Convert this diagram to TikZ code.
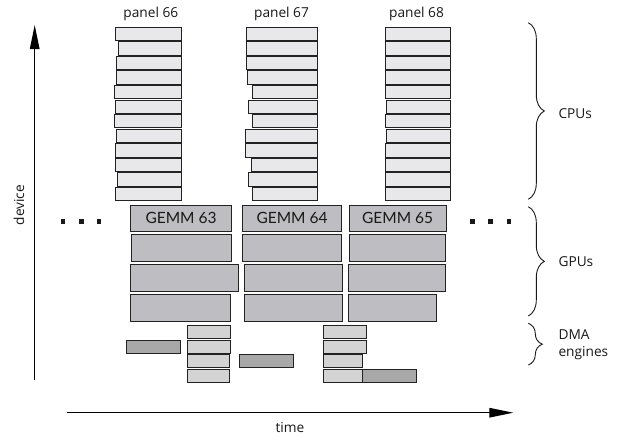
\documentclass[tikz,border=0pt]{standalone}
\usepackage{fontspec}
\setmainfont{Open Sans}
\newfontfamily\gemmfont{Lato}
\usetikzlibrary{arrows.meta,decorations.pathreplacing}
\definecolor{cpufill}{HTML}{E8E8EA}
\definecolor{gpufill}{HTML}{BEBEC2}
\definecolor{dmalight}{HTML}{D3D3D3}
\definecolor{dmadark}{HTML}{A8A8A8}
\definecolor{edge}{HTML}{222222}
\newcommand\bbox[6]{% style, name, x1, y1, x2, y2
  \node[#1, minimum width={(#5-#3)*1pt}, minimum height={(#6-#4)*1pt}] (#2) at (#3,#4) {};}
\begin{document}
\begin{tikzpicture}[x=1pt,y=-1pt,
  barbase/.style={draw=edge, line width=1pt, anchor=north west, inner sep=0pt, outer sep=0pt},
  cpubar/.style={barbase, fill=cpufill},
  gpubar/.style={barbase, fill=gpufill},
  dmal/.style={barbase, fill=dmalight},
  dmad/.style={barbase, fill=dmadark},
  lbl/.style={font=\fontsize{13.7}{16.5}\selectfont, text=black!90},
  gemm/.style={font=\gemmfont\fontsize{15.5}{18}\selectfont, text=black!90},
  dotsq/.style={fill=black!90, draw=none, minimum size=4.8pt, inner sep=0pt},
  axis/.style={line width=1.3pt, draw=black, -{Triangle[length=24pt,width=9.5pt]}},
  brc/.style={draw=black!90, line width=0.9pt, decorate, decoration={brace, amplitude=16pt}}]
\useasboundingbox (0,0) rectangle (628,440);
\fill[white] (0,0) rectangle (628,440);

% CPU panels
\foreach \l [count=\i] in {115.7,118.7,116,116.3,114.7,115,114.7,116,115.3,115.3,117.3,115.7}
  {\pgfmathsetmacro\t{27.3+(\i-1)*14.55}\bbox{cpubar}{pa\i}{\l}{\t}{181}{\t+13.3}}
\foreach \l [count=\i] in {246.7,246,246.7,247.3,252.7,248.3,252,245.3,245.3,251.7,248.3,252}
  {\pgfmathsetmacro\t{27.3+(\i-1)*14.55}\bbox{cpubar}{pb\i}{\l}{\t}{317.3}{\t+13.3}}
\foreach \l [count=\i] in {385.3,385.3,385.3,385.3,385.3,386.3,385.3,386.7,385.3,385.3,385.3,385.3}
  {\pgfmathsetmacro\t{27.3+(\i-1)*14.55}\bbox{cpubar}{pc\i}{\l}{\t}{450.7}{\t+13.3}}
\node[lbl] (l66) at (150.8,13.5) {panel 66};
\node[lbl] (l67) at (281.5,13.5) {panel 67};
\node[lbl] (l68) at (416.5,13.5) {panel 68};

% GPUs
\bbox{gpubar}{g1a}{130.7}{205}{231.3}{231.7}
\bbox{gpubar}{g1b}{131.3}{234.3}{231.7}{261.7}
\bbox{gpubar}{g1c}{130.3}{264.3}{238.7}{291.7}
\bbox{gpubar}{g1d}{130.3}{294.3}{230.3}{321.7}
\bbox{gpubar}{g2a}{242.7}{205}{341.3}{231.7}
\bbox{gpubar}{g2b}{242.7}{234.3}{341.3}{261.7}
\bbox{gpubar}{g2c}{244.7}{264.3}{342.7}{291.7}
\bbox{gpubar}{g2d}{244}{294.3}{342.7}{321.7}
\bbox{gpubar}{g3a}{349.3}{205}{446}{231.7}
\bbox{gpubar}{g3b}{349.3}{234.3}{445.3}{261.7}
\bbox{gpubar}{g3c}{348.7}{264.3}{445.3}{291.7}
\bbox{gpubar}{g3d}{348.7}{294.3}{436.7}{321.7}
\node[gemm] (t63) at (g1a.center) {GEMM 63};
\node[gemm] (t64) at (g2a.center) {GEMM 64};
\node[gemm] (t65) at (g3a.center) {GEMM 65};

% dots
\node[dotsq] (d1) at (63,221.3) {};
\node[dotsq] (d2) at (81.3,221.3) {};
\node[dotsq] (d3) at (99,221.3) {};
\node[dotsq] (d4) at (472.3,221.3) {};
\node[dotsq] (d5) at (490.6,221.3) {};
\node[dotsq] (d6) at (509,221.3) {};

% DMA
\bbox{dmal}{da1}{187.3}{325.3}{230.7}{338.3}
\bbox{dmal}{da2}{187.3}{340}{230.7}{353}
\bbox{dmal}{da3}{187.3}{354.7}{229.7}{367.7}
\bbox{dmal}{da4}{187.3}{369.3}{229.7}{382.3}
\bbox{dmad}{dk1}{126}{340}{180.7}{353}
\bbox{dmad}{dk2}{239.3}{354.7}{293.3}{367.7}
\bbox{dmal}{db1}{323.3}{325.3}{366.7}{338.3}
\bbox{dmal}{db2}{323.3}{340}{366.7}{353}
\bbox{dmal}{db3}{323.3}{354.7}{362.3}{367.7}
\bbox{dmal}{db4}{323.3}{369.3}{362.3}{382.3}
\bbox{dmad}{dk3}{362.3}{369.3}{416.7}{382.3}

% axes
\coordinate (ybot) at (34.7,380);
\coordinate (ytop) at (34.7,25);
\draw[axis] (ybot) -- (ytop);
\node[lbl, rotate=90] (ylab) at (19,205) {device};
\coordinate (xl) at (66.7,412.7);
\coordinate (xr) at (513.3,412.7);
\draw[axis] (xl) -- (xr);
\node[lbl] (xlab) at (290,428) {time};

% braces
\coordinate (b1t) at (528.3,22.7); \coordinate (b1b) at (528.3,199.3);
\coordinate (b2t) at (528.3,206.7); \coordinate (b2b) at (528.3,316);
\coordinate (b3t) at (528.3,323.3); \coordinate (b3b) at (528.3,365);
\draw[brc] (b1t) -- (b1b);
\draw[brc] (b2t) -- (b2b);
\draw[brc, decoration={brace, amplitude=14pt}] (b3t) -- (b3b);
\node[lbl, anchor=west] (cpu) at (555,113.3) {CPUs};
\node[lbl, anchor=west] (gpu) at (555,261.7) {GPUs};
\node[lbl, anchor=west, align=left] (dma) at (555,344.5) {DMA\\engines};
\end{tikzpicture}
\end{document}
